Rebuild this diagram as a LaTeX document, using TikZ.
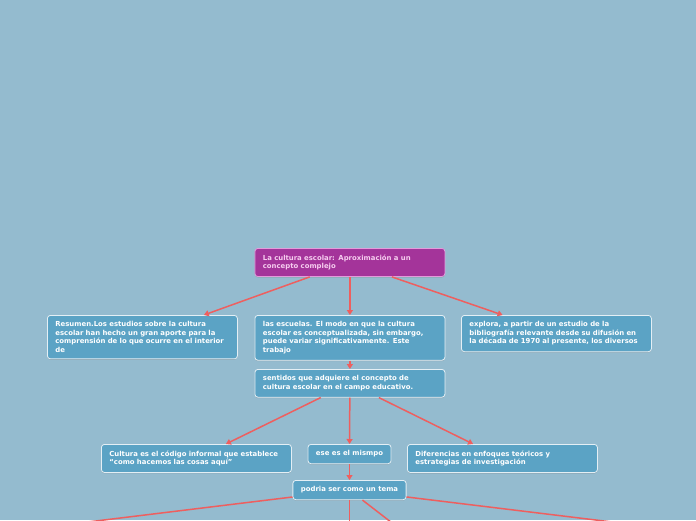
\documentclass[tikz,border=0pt]{standalone}
\usepackage{fontspec}
\setmainfont{DejaVu Sans}
\usetikzlibrary{arrows.meta,positioning,shadows}
\definecolor{Canvas}{HTML}{94BBCF}
\definecolor{Topic}{HTML}{5BA3C5}
\definecolor{TopicEdge}{HTML}{E4EFF5}
\definecolor{Root}{HTML}{A4349A}
\definecolor{RootEdge}{HTML}{E39BDC}
\definecolor{RootText}{HTML}{F6CDEF}
\definecolor{Link}{HTML}{EE5F5F}

\begin{document}
\begin{tikzpicture}[x=1pt,y=-1pt,
    topic/.style={rectangle,rounded corners=3pt,draw=TopicEdge,line width=0.8pt,fill=Topic,text=white,anchor=north west,inner xsep=8pt,inner ysep=6.3pt,font=\fontsize{6.9}{8.5}\selectfont\bfseries,align=left,drop shadow={shadow xshift=0pt,shadow yshift=-1pt,opacity=0.35}},
    wide/.style={text width=174pt},
    small/.style={align=center,anchor=north},
    root/.style={topic,fill=Root,draw=RootEdge,text=RootText},
    link/.style={-{Triangle[length=5pt,width=6pt]},draw=Link,line width=1.5pt}
]
\useasboundingbox (0,0) rectangle (696,520);
\fill[Canvas] (0,0) rectangle (696,520);
\clip (0,0) rectangle (696,520);

\node[root,wide] (tema) at (254.5,248) {La cultura escolar: Aproximación a un\\concepto complejo};
\node[topic,wide] (resumen) at (47,315) {Resumen.Los estudios sobre la cultura\\escolar han hecho un gran aporte para la\\comprensión de lo que ocurre en el interior\\de};
\node[topic,wide] (escuelas) at (254.5,315) {las escuelas. El modo en que la cultura\\escolar es conceptualizada, sin embargo,\\puede variar significativamente. Este\\trabajo};
\node[topic,wide] (explora) at (461,315) {explora, a partir de un estudio de la\\bibliografía relevante desde su difusión en\\la década de 1970 al presente, los diversos};
\node[topic,wide] (sentidos) at (254.5,369) {sentidos que adquiere el concepto de\\cultura escolar en el campo educativo.};
\node[topic,wide] (codigo) at (101,444) {Cultura es el código informal que establece\\“como hacemos las cosas aquí”};
\node[topic,small] (mismo) at (349.5,444) {ese es el mismpo};
\node[topic,wide] (enfoques) at (407,444) {Diferencias en enfoques teóricos y\\estrategias de investigación};
\node[topic,small] (podria) at (349.5,480) {podria ser como un tema};

% hijos fuera del cuadro
\coordinate (bajoA) at (-60,540);
\coordinate (bajoB) at (349.5,560);
\coordinate (bajoC) at (440,560);
\coordinate (bajoD) at (760,540);

\draw[link] (tema) -- (resumen);
\draw[link] (tema) -- (escuelas);
\draw[link] (tema) -- (explora);
\draw[link] (escuelas) -- (sentidos);
\draw[link] (sentidos) -- (codigo);
\draw[link] (sentidos) -- (mismo);
\draw[link] (sentidos) -- (enfoques);
\draw[link] (mismo) -- (podria);
\draw[link] (podria) -- (bajoA);
\draw[link] (podria) -- (bajoB);
\draw[link] (podria) -- (bajoC);
\draw[link] (podria) -- (bajoD);
\end{tikzpicture}
\end{document}
